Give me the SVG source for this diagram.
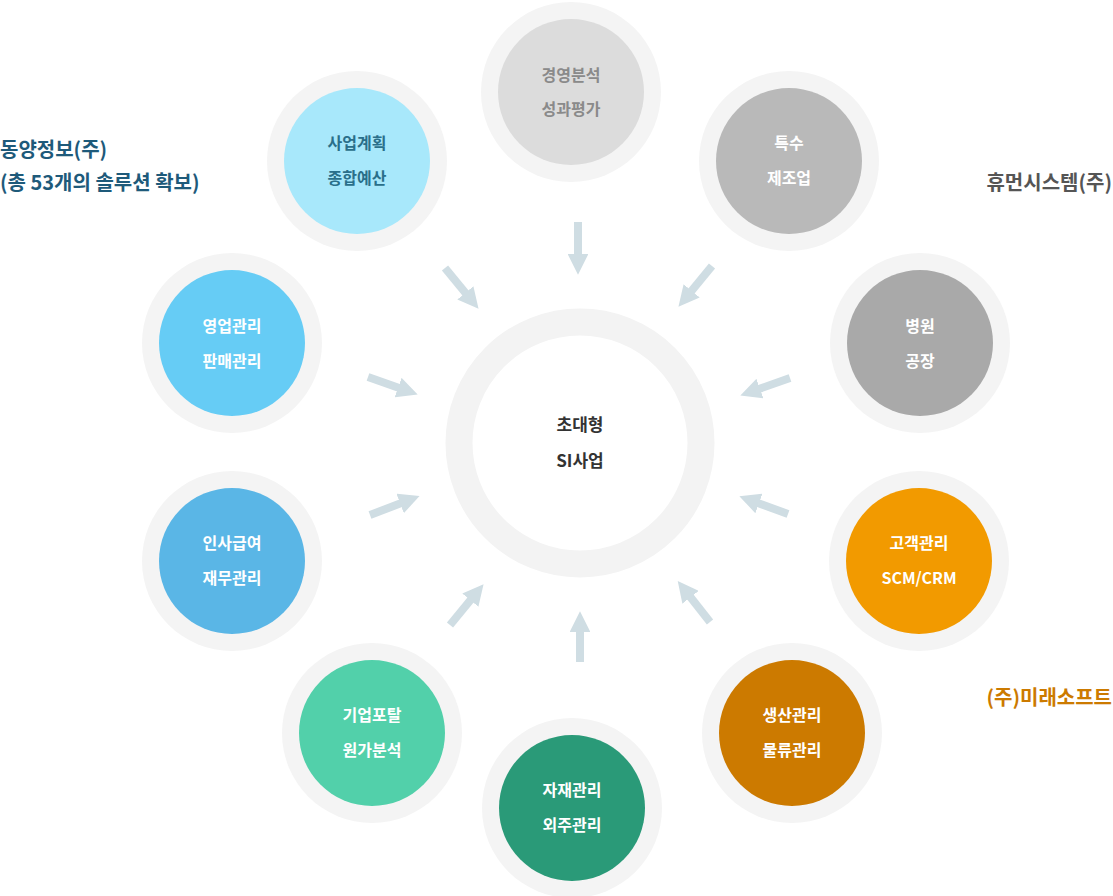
<svg xmlns="http://www.w3.org/2000/svg" width="1113" height="896" viewBox="0 0 1113 896">
<defs>
<style>
.ring{fill:#f4f4f4}
.t{font-family:"Noto Sans CJK KR","Noto Sans",sans-serif;font-size:16px;font-weight:bold;text-anchor:middle;fill:#fff}
.lab{font-family:"Noto Sans CJK KR","Noto Sans",sans-serif;font-size:20px;font-weight:bold}
.ar{stroke:#cfdde3;stroke-width:8;fill:none;marker-end:url(#h)}
</style>
<marker id="h" viewBox="0 0 10 10" refX="2" refY="5" markerWidth="2.6" markerHeight="2.6" orient="auto" markerUnits="strokeWidth"><path d="M0,0L10,5L0,10z" fill="#cfdde3"/></marker>
</defs>
<rect width="1113" height="896" fill="#fff"/>
<g id="center"><circle cx="580" cy="443" r="121" fill="none" stroke="#f3f3f3" stroke-width="27"/>
<text class="t" x="580" y="431" style="fill:#333;font-size:17px">초대형</text><text class="t" x="580" y="467" style="fill:#333;font-size:17px">SI사업</text></g>
<g id="n1"><circle class="ring" cx="571" cy="92" r="90"/><circle cx="571" cy="92" r="73" fill="#dcdcdc"/><text class="t" x="571" y="81" style="fill:#8a8a8a">경영분석</text><text class="t" x="571" y="115" style="fill:#8a8a8a">성과평가</text></g>
<g id="n2"><circle class="ring" cx="789" cy="161" r="90"/><circle cx="789" cy="161" r="73" fill="#b9b9b9"/><text class="t" x="789" y="149">특수</text><text class="t" x="789" y="184">제조업</text></g>
<g id="n3"><circle class="ring" cx="920" cy="343" r="90"/><circle cx="920" cy="343" r="73" fill="#a9a9a9"/><text class="t" x="920" y="332">병원</text><text class="t" x="920" y="367">공장</text></g>
<g id="n4"><circle class="ring" cx="919" cy="561" r="90"/><circle cx="919" cy="561" r="73" fill="#f29a00"/><text class="t" x="919" y="549">고객관리</text><text class="t" x="919" y="584">SCM/CRM</text></g>
<g id="n5"><circle class="ring" cx="792" cy="733" r="90"/><circle cx="792" cy="733" r="73" fill="#cc7a00"/><text class="t" x="792" y="721">생산관리</text><text class="t" x="792" y="756">물류관리</text></g>
<g id="n6"><circle class="ring" cx="572" cy="808" r="90"/><circle cx="572" cy="808" r="73" fill="#2a9a78"/><text class="t" x="572" y="796">자재관리</text><text class="t" x="572" y="831">외주관리</text></g>
<g id="n7"><circle class="ring" cx="372" cy="733" r="90"/><circle cx="372" cy="733" r="73" fill="#52d0aa"/><text class="t" x="372" y="721">기업포탈</text><text class="t" x="372" y="756">원가분석</text></g>
<g id="n8"><circle class="ring" cx="232" cy="561" r="90"/><circle cx="232" cy="561" r="73" fill="#5ab6e6"/><text class="t" x="232" y="549">인사급여</text><text class="t" x="232" y="584">재무관리</text></g>
<g id="n9"><circle class="ring" cx="232" cy="343" r="90"/><circle cx="232" cy="343" r="73" fill="#66ccf5"/><text class="t" x="232" y="332">영업관리</text><text class="t" x="232" y="367">판매관리</text></g>
<g id="n10"><circle class="ring" cx="357" cy="161" r="90"/><circle cx="357" cy="161" r="73" fill="#a8e8fb"/><text class="t" x="357" y="149" style="fill:#2a6f8a">사업계획</text><text class="t" x="357" y="184" style="fill:#2a6f8a">종합예산</text></g>
<g id="connectors">
<line class="ar" x1="578" y1="222" x2="578" y2="258"/>
<line class="ar" x1="445" y1="268" x2="468" y2="296"/>
<line class="ar" x1="712" y1="266" x2="689" y2="294"/>
<line class="ar" x1="368" y1="377" x2="402" y2="389"/>
<line class="ar" x1="790" y1="378" x2="756" y2="390"/>
<line class="ar" x1="370" y1="515" x2="404" y2="502"/>
<line class="ar" x1="788" y1="514" x2="755" y2="502"/>
<line class="ar" x1="450" y1="625" x2="473" y2="597"/>
<line class="ar" x1="710" y1="622" x2="688" y2="594"/>
<line class="ar" x1="580" y1="662" x2="580" y2="628"/>
</g>
<g id="labels">
<text class="lab" x="0" y="157" fill="#1e5a7a">동양정보(주)</text>
<text class="lab" x="0" y="190" fill="#1e5a7a">(총 53개의 솔루션 확보)</text>
<text class="lab" x="1112" y="190" fill="#555" text-anchor="end">휴먼시스템(주)</text>
<text class="lab" x="1112" y="705" fill="#cc7a00" text-anchor="end">(주)미래소프트</text>
</g>
</svg>
